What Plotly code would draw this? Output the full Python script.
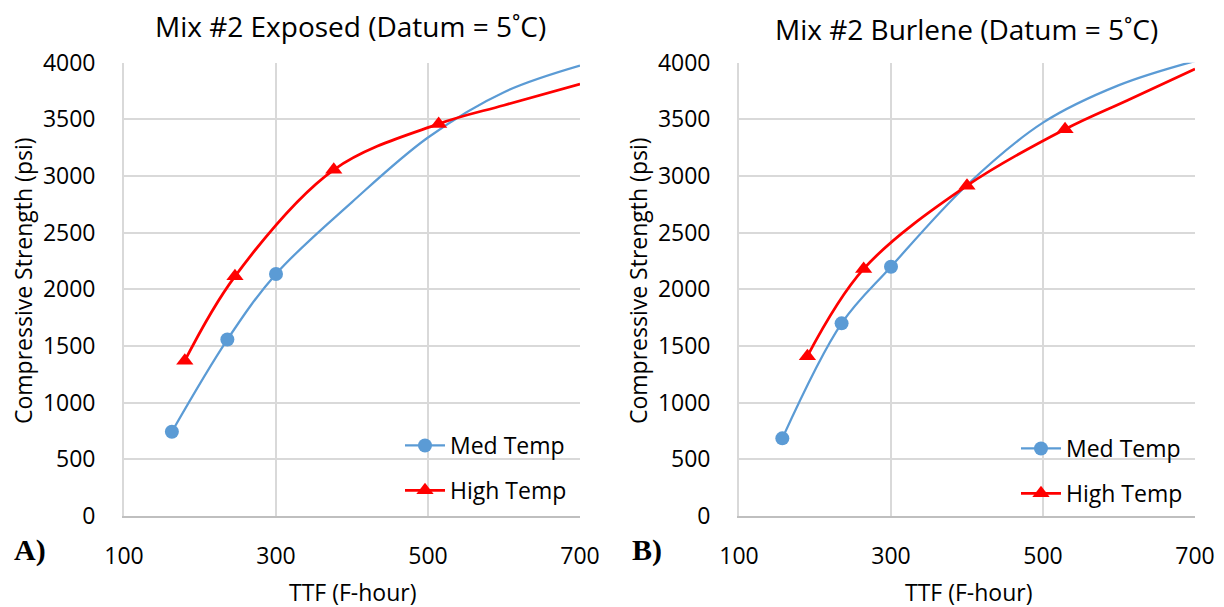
import plotly.graph_objects as go
from plotly.subplots import make_subplots

# ---- Data ----
# Panel A: Mix #2 Exposed
a_med_x = [163, 236, 300]
a_med_y = [744, 1557, 2136]
a_med_tail_x = [400, 500, 600, 700]          # continuation of the smoothed curve (no markers)
a_med_tail_y = [2770, 3340, 3740, 3974]

a_high_x = [180, 246, 376, 514]
a_high_y = [1370, 2115, 3055, 3460]
a_high_tail_x = [600, 700]
a_high_tail_y = [3625, 3812]

# Panel B: Mix #2 Burlene
b_med_x = [157, 235, 300]
b_med_y = [685, 1700, 2200]
b_med_tail_x = [400, 500, 600, 700]
b_med_tail_y = [2921, 3471, 3802, 4015]

b_high_x = [190, 264, 400, 529]
b_high_y = [1410, 2180, 2915, 3413]
b_high_tail_x = [610, 700]
b_high_tail_y = [3665, 3944]

x_ticks = [100, 300, 500, 700]
y_ticks = [0, 500, 1000, 1500, 2000, 2500, 3000, 3500, 4000]

titles = ["Mix #2 Exposed (Datum = 5˚C)", "Mix #2 Burlene (Datum = 5˚C)"]
series_names = ["Med Temp", "High Temp"]
panel_labels = ["A)", "B)"]

BLUE = "#5B9BD5"
RED = "#FF0000"
FONT = "Open Sans"
W, H = 1224, 607

fig = make_subplots(rows=1, cols=2)

panels = [
    (a_med_x, a_med_y, a_med_tail_x, a_med_tail_y, a_high_x, a_high_y, a_high_tail_x, a_high_tail_y),
    (b_med_x, b_med_y, b_med_tail_x, b_med_tail_y, b_high_x, b_high_y, b_high_tail_x, b_high_tail_y),
]

for i, (mx, my, mtx, mty, hx, hy, htx, hty) in enumerate(panels):
    col = i + 1
    leg = "legend" if i == 0 else "legend2"
    for (x, y, tx, ty, color, sym, size, width, name) in [
        (mx, my, mtx, mty, BLUE, "circle", 14, 2.25, series_names[0]),
        (hx, hy, htx, hty, RED, "triangle-up", 15, 2.75, series_names[1]),
    ]:
        fig.add_trace(go.Scatter(x=x + tx, y=y + ty, mode="lines",
                                 line=dict(color=color, width=width, shape="spline", smoothing=1.0),
                                 showlegend=False, hoverinfo="skip"), row=1, col=col)
        fig.add_trace(go.Scatter(x=x, y=y, mode="markers",
                                 marker=dict(color=color, symbol=sym, size=size),
                                 showlegend=False, name=name), row=1, col=col)
        fig.add_trace(go.Scatter(x=[None], y=[None], mode="lines+markers", name=name,
                                 line=dict(color=color, width=width),
                                 marker=dict(color=color, symbol=sym, size=size),
                                 legend=leg, legendgroup=f"{leg}-{name}",
                                 showlegend=True), row=1, col=col)

x_domains = [[124 / W, 580 / W], [739 / W, 1195 / W]]
y_domain = [1 - 516 / H, 1 - 62.7 / H]

for i in range(2):
    xa = "xaxis" if i == 0 else "xaxis2"
    ya = "yaxis" if i == 0 else "yaxis2"
    fig.layout[xa].update(domain=x_domains[i], range=[100, 700], tickvals=x_ticks,
                          showgrid=True, gridcolor="#d9d9d9", gridwidth=1.75,
                          showline=True, linecolor="#bfbfbf", linewidth=2,
                          zeroline=False, ticks="", ticklabelstandoff=18, automargin=False,
                          tickfont=dict(family=FONT, size=23, color="#000000"))
    fig.layout[ya].update(domain=y_domain, range=[0, 4000], tickvals=y_ticks,
                          showgrid=True, gridcolor="#d9d9d9", gridwidth=1.75,
                          showline=True, linecolor="#d9d9d9", linewidth=1.75,
                          zeroline=False, ticks="", ticklabelstandoff=22, automargin=False,
                          tickfont=dict(family=FONT, size=23, color="#000000"))

annotations = []
title_x = [350, 966]
title_y = [26, 29]
ytitle_x = [23, 638]
xtitle_x = [353, 968]
label_x = [29.5, 647]
for i in range(2):
    annotations.append(dict(text=titles[i], x=title_x[i] / W, y=1 - title_y[i] / H, xref="paper", yref="paper",
                            showarrow=False, xanchor="center", yanchor="middle",
                            font=dict(family=FONT, size=28, color="#000000")))
    annotations.append(dict(text="Compressive Strength (psi)", x=ytitle_x[i] / W, y=1 - 281 / H,
                            xref="paper", yref="paper", showarrow=False, textangle=-90,
                            xanchor="center", yanchor="middle",
                            font=dict(family=FONT, size=23, color="#000000")))
    annotations.append(dict(text="TTF (F-hour)", x=xtitle_x[i] / W, y=1 - 592 / H,
                            xref="paper", yref="paper", showarrow=False,
                            xanchor="center", yanchor="middle",
                            font=dict(family=FONT, size=23, color="#000000")))
    annotations.append(dict(text="<b>" + panel_labels[i] + "</b>", x=label_x[i] / W, y=1 - 550 / H,
                            xref="paper", yref="paper", showarrow=False,
                            xanchor="center", yanchor="middle",
                            font=dict(family="Liberation Serif", size=30, color="#000000")))

legend_common = dict(bgcolor="rgba(0,0,0,0)", borderwidth=0, tracegroupgap=12,
                     font=dict(family=FONT, size=23, color="#000000"),
                     xanchor="left", yanchor="top", xref="paper", yref="paper",
                     itemwidth=40, traceorder="grouped")

fig.update_layout(
    width=W, height=H,
    margin=dict(l=0, r=0, t=0, b=0),
    paper_bgcolor="white", plot_bgcolor="white",
    annotations=annotations,
    legend=dict(x=400 / W, y=1 - 424 / H, **legend_common),
    legend2=dict(x=1016 / W, y=1 - 427 / H, **legend_common),
)

fig.write_html("out.html")
